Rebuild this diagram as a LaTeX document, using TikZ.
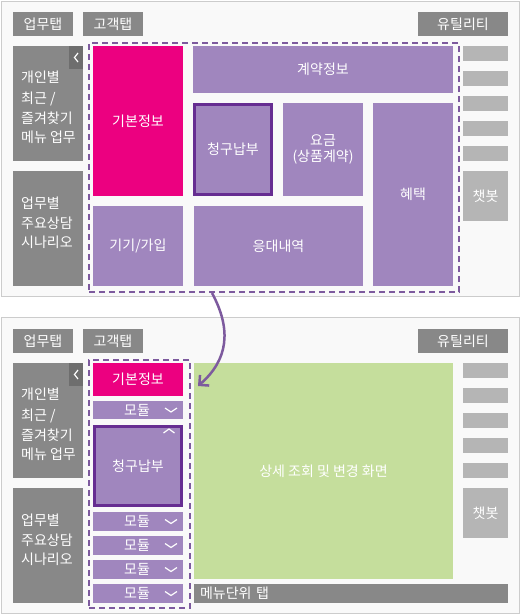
\documentclass[tikz,border=0pt]{standalone}
\usepackage{fontspec}
\setmainfont{Noto Sans CJK KR}
\usetikzlibrary{arrows.meta}
\definecolor{bgc}{HTML}{F9F9F9}
\definecolor{bdc}{HTML}{CCCCCC}
\definecolor{grayc}{HTML}{888888}
\definecolor{tabc}{HTML}{6E6E6E}
\definecolor{lgrayc}{HTML}{B5B5B5}
\definecolor{pinkc}{HTML}{EC0080}
\definecolor{purc}{HTML}{A086BE}
\definecolor{dpurc}{HTML}{662D91}
\definecolor{dashc}{HTML}{7D5A9E}
\definecolor{greenc}{HTML}{C5DE9C}
\newcommand{\kfont}{\fontsize{14}{16}\selectfont}
\tikzset{
  wh/.style 2 args={minimum width=#1pt, minimum height=#2pt},
  panel/.style={draw=bdc, fill=bgc, line width=1pt},
  blk/.style={anchor=north west, inner sep=0pt, outer sep=0pt, text=white, font=\kfont, align=center},
  graybox/.style={blk, fill=grayc},
  lgraybox/.style={blk, fill=lgrayc},
  pinkbox/.style={blk, fill=pinkc},
  purbox/.style={blk, fill=purc},
  selbox/.style={blk, fill=purc, draw=dpurc, line width=3pt},
  greenbox/.style={blk, fill=greenc},
  tabbox/.style={blk, fill=tabc},
  dashbox/.style={draw=dashc, dash pattern=on 6pt off 4pt, line width=2pt},
  chev/.style={draw=white, line width=1.2pt},
  bigarrow/.style={draw=dashc, line width=2.5pt, -{Straight Barb[length=7pt,width=14pt,line width=2.5pt]}},
  lefttext/.style={anchor=west, inner sep=0pt, text=white, font=\kfont}
}
\begin{document}
\begin{tikzpicture}[x=1pt,y=-1pt]
\useasboundingbox (0,0) rectangle (521,614);
% ================= top panel =================
\draw[panel] (1,1) rectangle (519,296);
\node[graybox, wh={60}{24}] (t1) at (13,12) {업무탭};
\node[graybox, wh={60}{24}] (t2) at (83,12) {고객탭};
\node[graybox, wh={90}{24}] (t3) at (418,12) {유틸리티};
\node[graybox, wh={70}{115}] (l1) at (13,46) {};
\node[tabbox, wh={14}{23}] (l1t) at (69,46) {};
\draw[chev] (78,53) -- (74.5,57.5) -- (78,62);
\node[lefttext] (l1a) at (21,77) {개인별};
\node[lefttext] (l1b) at (21,99) {최근 /};
\node[lefttext] (l1c) at (21,118) {즐겨찾기};
\node[lefttext] (l1d) at (21,137) {메뉴 업무};
\node[graybox, wh={70}{115}] (l2) at (13,171) {};
\node[lefttext] (l2a) at (21,203) {업무별};
\node[lefttext] (l2b) at (21,223) {주요상담};
\node[lefttext] (l2c) at (21,242) {시나리오};
\node[dashbox, anchor=north west, inner sep=0pt, wh={370}{249}] (dtop) at (88,42) {};
\node[pinkbox, wh={90}{150}] (kb) at (93,46) {기본정보};
\node[purbox, wh={260}{47}] (gy) at (193,46) {계약정보};
\node[selbox, wh={77}{90}] (cg) at (194.5,104.5) {청구납부};
\node[purbox, wh={80}{93}] (yg) at (283,103) {요금\\(상품계약)};
\node[purbox, wh={80}{183}] (ht) at (373,103) {혜택};
\node[purbox, wh={90}{80}] (gg) at (93,206) {기기/가입};
\node[purbox, wh={169}{80}] (ed) at (194,206) {응대내역};
\node[lgraybox, wh={45}{15}] (r1) at (463,46) {};
\node[lgraybox, wh={45}{15}] (r2) at (463,71) {};
\node[lgraybox, wh={45}{15}] (r3) at (463,96) {};
\node[lgraybox, wh={45}{15}] (r4) at (463,121) {};
\node[lgraybox, wh={45}{15}] (r5) at (463,146) {};
\node[lgraybox, wh={45}{50}] (cb) at (463,171) {챗봇};
% ================= bottom panel =================
\draw[panel] (1,317) rectangle (519,613);
\node[graybox, wh={60}{24}] (bt1) at (13,329) {업무탭};
\node[graybox, wh={60}{24}] (bt2) at (83,329) {고객탭};
\node[graybox, wh={90}{24}] (bt3) at (418,329) {유틸리티};
\node[graybox, wh={70}{115}] (bl1) at (13,363) {};
\node[tabbox, wh={14}{23}] (bl1t) at (69,363) {};
\draw[chev] (78,370) -- (74.5,374.5) -- (78,379);
\node[lefttext] (bl1a) at (21,394) {개인별};
\node[lefttext] (bl1b) at (21,416) {최근 /};
\node[lefttext] (bl1c) at (21,435) {즐겨찾기};
\node[lefttext] (bl1d) at (21,454) {메뉴 업무};
\node[graybox, wh={70}{115}] (bl2) at (13,488) {};
\node[lefttext] (bl2a) at (21,520) {업무별};
\node[lefttext] (bl2b) at (21,540) {주요상담};
\node[lefttext] (bl2c) at (21,559) {시나리오};
\node[dashbox, anchor=north west, inner sep=0pt, wh={101}{248}] (dbot) at (88,359) {};
\node[pinkbox, wh={90}{33}] (bkb) at (93,363) {기본정보};
\node[purbox, wh={90}{18}] (m1) at (93,401) {};
\node[selbox, wh={87}{79}] (bcg) at (94.5,426.5) {청구납부};
\node[purbox, wh={90}{19}] (m2) at (93,512) {};
\node[purbox, wh={90}{19}] (m3) at (93,536) {};
\node[purbox, wh={90}{19}] (m4) at (93,560) {};
\node[purbox, wh={90}{19}] (m5) at (93,584) {};
\foreach \n in {m1,m2,m3,m4,m5}{
  \node[text=white, inner sep=0pt, font=\kfont] at ([xshift=44pt]\n.west) {모듈};
  \draw[chev] ([xshift=-18pt,yshift=2pt]\n.east) -- ([xshift=-12pt,yshift=-2pt]\n.east) -- ([xshift=-6pt,yshift=2pt]\n.east);
}
\draw[chev] ([xshift=-18pt,yshift=-6.5pt]bcg.north east) -- ([xshift=-12.5pt,yshift=-2.5pt]bcg.north east) -- ([xshift=-7pt,yshift=-6.5pt]bcg.north east);
\node[greenbox, wh={259}{216}] (gr) at (194,363) {상세 조회 및 변경 화면};
\node[graybox, wh={314}{19}, text width=302pt, align=left] (mt) at (194,584) {메뉴단위 탭};
\node[lgraybox, wh={45}{15}] (br1) at (463,363) {};
\node[lgraybox, wh={45}{15}] (br2) at (463,388) {};
\node[lgraybox, wh={45}{15}] (br3) at (463,413) {};
\node[lgraybox, wh={45}{15}] (br4) at (463,438) {};
\node[lgraybox, wh={45}{15}] (br5) at (463,463) {};
\node[lgraybox, wh={45}{50}] (bcb) at (463,488) {챗봇};
% ================= arrow =================
\coordinate (a1) at ([xshift=124pt]dtop.south west);
\coordinate (a2) at (198,386);
\draw[bigarrow] (a1) .. controls (232,330) and (228,360) .. (a2);
\end{tikzpicture}
\end{document}
